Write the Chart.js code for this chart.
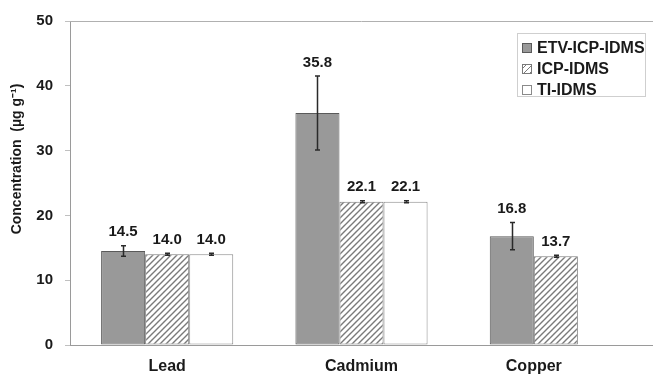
<!DOCTYPE html>
<html>
<head>
<meta charset="utf-8">
<script src="https://cdn.jsdelivr.net/npm/chart.js@4.4.1/dist/chart.umd.min.js"></script>
<style>
  html, body { margin: 0; padding: 0; background: #fff; }
  #wrap { position: relative; width: 653px; height: 376px; }
  #legend {
    position: absolute; left: 517px; top: 33px; width: 129px; height: 64px;
    border: 1px solid #cfcfcf; background: #fff; box-sizing: border-box;
    font-family: "Liberation Sans", Arial, sans-serif; font-weight: bold; font-size: 16px; color: #1a1a1a;
  }
  .row { position: absolute; left: 4px; height: 20px; line-height: 20px; white-space: nowrap; }
  .sw { position: absolute; left: 0; top: 5px; width: 10px; height: 10px; box-sizing: border-box; }
  .lbl { position: absolute; left: 15px; top: 0; }
</style>
</head>
<body>
<div id="wrap">
  <canvas id="c" width="653" height="376"></canvas>
  <div id="legend"></div>
</div>
<script>
// Element concentrations measured by three isotope-dilution methods
const categories = ["Lead", "Cadmium", "Copper"];
const seriesNames = ["ETV-ICP-IDMS", "ICP-IDMS", "TI-IDMS"];
const etvValues = [14.5, 35.8, 16.8];
const icpValues = [14.0, 22.1, 13.7];
const tiValues  = [14.0, 22.1, null];
const etvErrors = [0.8, 5.7, 2.1];
const icpErrors = [0.15, 0.15, 0.15];
const tiErrors  = [0.15, 0.15, null];
const yTicks = [0, 10, 20, 30, 40, 50];

const FONT = '"Liberation Sans", Arial, sans-serif';

// Diagonal hatch fill for the ICP-IDMS bars
function makeHatch() {
  const s = 6;
  const p = document.createElement('canvas');
  p.width = s; p.height = s;
  const g = p.getContext('2d');
  g.fillStyle = '#ffffff';
  g.fillRect(0, 0, s, s);
  g.strokeStyle = '#7a7a7a';
  g.lineWidth = 1.4;
  g.beginPath();
  g.moveTo(-1, s + 1); g.lineTo(s + 1, -1);
  g.moveTo(-1, 1); g.lineTo(1, -1);
  g.moveTo(s - 1, s + 1); g.lineTo(s + 1, s - 1);
  g.stroke();
  return g.createPattern(p, 'repeat');
}
const hatch = makeHatch();

const styles = [
  { bg: '#999999', border: '#5a5a5a' },
  { bg: hatch, border: '#7a7a7a' },
  { bg: '#ffffff', border: '#8a8a8a' }
];
const seriesValues = [etvValues, icpValues, tiValues];
const seriesErrors = [etvErrors, icpErrors, tiErrors];

const datasets = seriesNames.map((name, i) => ({
  label: name,
  data: seriesValues[i],
  errors: seriesErrors[i],
  backgroundColor: styles[i].bg,
  borderColor: styles[i].border,
  borderWidth: 1,
  borderSkipped: false,
  categoryPercentage: 0.68,
  barPercentage: 1.0
}));

// Error bars, value labels, frame and category labels
const decorPlugin = {
  id: 'decor',
  afterDatasetsDraw(chart) {
    const ctx = chart.ctx;
    const y = chart.scales.y;
    const area = chart.chartArea;
    ctx.save();
    // top frame line
    ctx.strokeStyle = '#b0b0b0';
    ctx.lineWidth = 1;
    ctx.beginPath();
    ctx.moveTo(area.left, Math.round(area.top) + 0.5);
    ctx.lineTo(chart.width, Math.round(area.top) + 0.5);
    ctx.stroke();

    chart.data.datasets.forEach((ds, di) => {
      const meta = chart.getDatasetMeta(di);
      meta.data.forEach((bar, idx) => {
        const v = ds.data[idx];
        if (v === null || v === undefined) return;
        const e = ds.errors[idx] || 0;
        const yt = y.getPixelForValue(v + e);
        const yb = y.getPixelForValue(v - e);
        const x = Math.round(bar.x) + 0.5;
        ctx.strokeStyle = '#2a2a2a';
        ctx.lineWidth = 1.5;
        ctx.beginPath();
        ctx.moveTo(x, yt); ctx.lineTo(x, yb);
        ctx.moveTo(x - 2.5, yt); ctx.lineTo(x + 2.5, yt);
        ctx.moveTo(x - 2.5, yb); ctx.lineTo(x + 2.5, yb);
        ctx.stroke();
        ctx.fillStyle = '#1a1a1a';
        ctx.font = 'bold 15px ' + FONT;
        ctx.textAlign = 'center';
        ctx.textBaseline = 'bottom';
        ctx.fillText(v.toFixed(1), bar.x, yt - 6);
      });
    });

    // category labels centred under the bars that carry data
    ctx.fillStyle = '#1a1a1a';
    ctx.font = 'bold 16px ' + FONT;
    ctx.textAlign = 'center';
    ctx.textBaseline = 'middle';
    categories.forEach((cat, idx) => {
      const xs = [];
      chart.data.datasets.forEach((ds, di) => {
        if (ds.data[idx] !== null && ds.data[idx] !== undefined) {
          xs.push(chart.getDatasetMeta(di).data[idx].x);
        }
      });
      const cx = xs.reduce((a, b) => a + b, 0) / xs.length;
      ctx.fillText(cat, cx, area.bottom + 22);
    });

    // y-axis title
    ctx.save();
    ctx.translate(17, 159);
    ctx.rotate(-Math.PI / 2);
    ctx.font = 'bold 14px ' + FONT;
    ctx.textAlign = 'center';
    ctx.textBaseline = 'middle';
    ctx.fillText('Concentration  (\u00b5g g\u207b\u00b9)', 0, 0);
    ctx.restore();
    ctx.restore();
  }
};

new Chart(document.getElementById('c'), {
  type: 'bar',
  data: { labels: categories, datasets },
  options: {
    responsive: false,
    animation: false,
    events: [],
    layout: { padding: { top: 19, right: 0, left: 0, bottom: 0 } },
    plugins: { legend: { display: false }, tooltip: { enabled: false } },
    scales: {
      x: {
        grid: { display: false, drawTicks: false },
        border: { color: '#9a9a9a', width: 1 },
        ticks: { display: false },
        afterFit(s) { s.height = 31; }
      },
      y: {
        min: 0, max: 50,
        afterBuildTicks(s) { s.ticks = yTicks.map(v => ({ value: v })); },
        grid: { drawOnChartArea: false, tickLength: 5, color: '#c0c0c0' },
        border: { color: '#9a9a9a', width: 1 },
        ticks: {
          padding: 12,
          color: '#1a1a1a',
          font: { family: FONT, weight: 'bold', size: 15 }
        },
        afterFit(s) { s.width = 70; }
      }
    }
  },
  plugins: [decorPlugin]
});

// Legend built from the dataset names
const legend = document.getElementById('legend');
const swatchCss = [
  'background:#999999;border:1px solid #5a5a5a;',
  'background:repeating-linear-gradient(135deg,#fff 0 1.6px,#7a7a7a 1.6px 2.8px,#fff 2.8px 4.2px);border:1px solid #7a7a7a;',
  'background:#fff;border:1px solid #8a8a8a;'
];
seriesNames.forEach((name, i) => {
  const row = document.createElement('div');
  row.className = 'row';
  row.style.top = (4 + i * 21) + 'px';
  row.innerHTML = '<span class="sw" style="' + swatchCss[i] + '"></span><span class="lbl"></span>';
  row.querySelector('.lbl').textContent = name;
  legend.appendChild(row);
});
</script>
</body>
</html>
